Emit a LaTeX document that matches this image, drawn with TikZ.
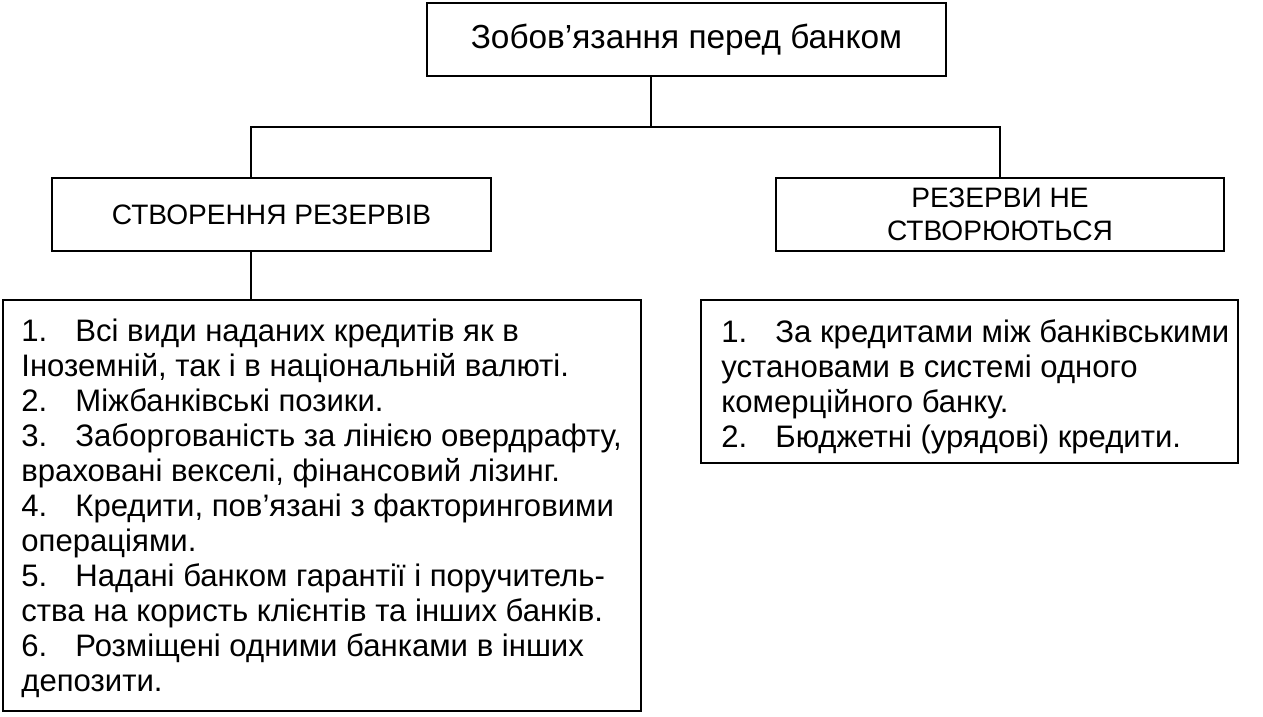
\documentclass[tikz,border=0pt]{standalone}
\usepackage{fontspec}
\setmainfont{Liberation Sans}
\usepackage{tikz}
\tikzstyle{box}=[draw,line width=1.6pt,inner sep=0pt,align=center]
\tikzstyle{list}=[inner sep=0pt,anchor=north west,align=left,font=\fontsize{17.7}{19.9}\selectfont]
\newlength{\pxu}\setlength{\pxu}{0.02cm}
\newcommand{\nr}[1]{\makebox[54\pxu][l]{#1}}

\begin{document}
\begin{tikzpicture}[x=0.02cm,y=-0.02cm,line width=1.6pt]
  \useasboundingbox (0,0) rectangle (1263,716);
  \node[box,minimum width=519\pxu,minimum height=73\pxu,font=\fontsize{19}{21}\selectfont] (top) at (686.5,39.5) {Зобов’язання перед банком};
  \node[box,minimum width=439\pxu,minimum height=73\pxu,font=\fontsize{16}{19}\selectfont] (create) at (271.5,214.5) {СТВОРЕННЯ РЕЗЕРВІВ};
  \node[box,minimum width=448\pxu,minimum height=73\pxu,font=\fontsize{16}{19}\selectfont] (nocreate) at (1000,214.5) {РЕЗЕРВИ НЕ\\СТВОРЮЮТЬСЯ};
  \node[box,minimum width=638\pxu,minimum height=411\pxu] (leftlist) at (322,505.5) {};
  \node[box,minimum width=537\pxu,minimum height=163\pxu] (rightlist) at (969.5,381.5) {};
  % list texts
  \node[list] (lefttext) at (20,318) {\nr{1.}Всі види наданих кредитів як в\\Іноземній, так і в національній валюті.\\\nr{2.}Міжбанківські позики.\\\nr{3.}Заборгованість за лінією овердрафту,\\враховані векселі, фінансовий лізинг.\\\nr{4.}Кредити, пов’язані з факторинговими\\операціями.\\\nr{5.}Надані банком гарантії і поручитель-\\ства на користь клієнтів та інших банків.\\\nr{6.}Розміщені одними банками в інших\\депозити.};
  \node[list] (righttext) at (720,318) {\nr{1.}За кредитами між банківськими\\установами в системі одного\\комерційного банку.\\\nr{2.}Бюджетні (урядові) кредити.};
  % connectors
  \coordinate (split) at (651,127);
  \coordinate (cj) at (251,178);
  \coordinate (nj) at (1000,178);
  \coordinate (lj) at (251,300);
  \draw (top.south -| split) -- (split);
  \draw (cj) |- (split) -| (nj);
  \draw (cj |- create.south) -- (lj);
\end{tikzpicture}
\end{document}
